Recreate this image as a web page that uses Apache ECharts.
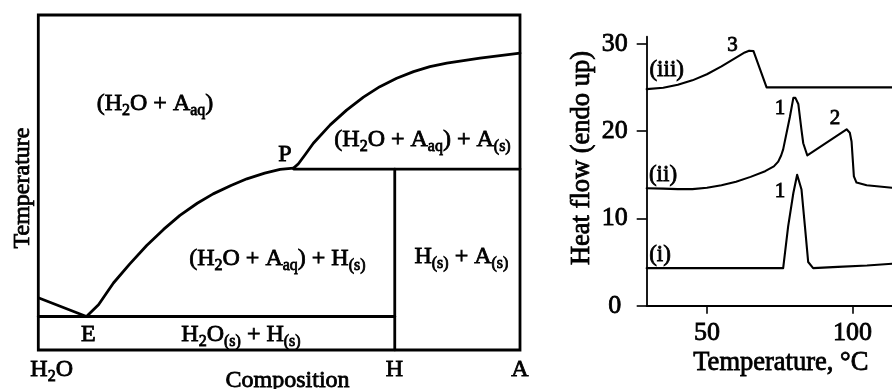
<!DOCTYPE html>
<html><head><meta charset="utf-8">
<script src="https://cdn.jsdelivr.net/npm/echarts@6/dist/echarts.min.js"></script>
<style>html,body{margin:0;padding:0;background:#fff}#c{width:892px;height:389px}</style>
</head><body><div id="c"></div>
<script>
// ---------- Phase diagram (composition 0..100: H2O=0, H=74, A=100; temperature 0..100 relative) ----------
const leftLiquidus = [[0, 15.6], [10, 10]];
const mainLiquidus = [[10, 10], [12.5, 13.5], [15.6, 20], [19, 25.7], [22.5, 31.2], [26, 36], [29.4, 40.2], [33, 43.8], [36.3, 46.6], [40, 49.1], [43.3, 51.1], [47, 52.8], [50.2, 53.9], [53, 54.3]];
const upperLiquidus = [[53, 54.3], [54, 55.6], [55.5, 58.5], [57.1, 61.7], [60.6, 67.2], [64, 71.6], [67.5, 75.5], [70.9, 78.6], [74.4, 81.1], [77.9, 83.1], [81.3, 84.6], [84.8, 85.6], [91.7, 87.1], [100, 88.6]];
const eutecticTie = [[0, 10], [74, 10]];
const peritecticTie = [[53, 54], [100, 54]];
const hydrateLine = [[74, 0], [74, 54]];
const compositionTicks = ['H₂O', 'H', 'A'];

// ---------- DSC curves (Temperature °C, heat flow) ----------
const curveIII = [[29.3, 24.8], [35, 24.95], [40, 25.3], [45, 25.8], [50, 26.5], [55, 27.4], [60, 28.4], [63, 29.0], [64.5, 29.2], [66, 29.15], [70.5, 25.0], [113.6, 25.0]];
const curveII = [[29.3, 13.45], [35, 13.4], [40, 13.35], [45, 13.35], [50, 13.5], [55, 13.8], [60, 14.2], [65, 14.75], [70, 15.4], [73, 15.95], [74.5, 16.5], [75.5, 17.2], [76.2, 17.9], [78.5, 21.6], [79.7, 23.8], [80.4, 23.8], [81.4, 23.1], [82.5, 20.1], [83.1, 18.6], [84.5, 17.2], [98, 20.2], [99.1, 19.8], [99.7, 18.8], [100.5, 14.8], [101.4, 14.1], [104.9, 13.8], [113.6, 13.5]];
const curveI = [[29.3, 4.3], [50, 4.3], [76.2, 4.3], [77.9, 9.05], [79.7, 12.9], [81, 15.0], [82.5, 13.3], [83.7, 9.0], [84.8, 5.0], [86.5, 4.3], [95, 4.45], [105, 4.6], [113.6, 4.8]];
const tempTicks = [50, 100];
const heatTicks = [0, 10, 20, 30];

const F = '"Liberation Serif", "Times New Roman", serif';
const SW = 0.8; // text stroke to mimic heavy print
const chart = echarts.init(document.getElementById('c'), null, {renderer: 'canvas'});

function rich(x, y, text, size, rot) {
  const sub = Math.round(size * 0.66);
  return {
    type: 'text', x: x, y: y, rotation: rot || 0, silent: true,
    style: {
      text: text, fill: '#000', stroke: '#000', lineWidth: SW, fontFamily: F, fontSize: size,
      align: 'center', verticalAlign: 'middle', textAlign: 'center', textVerticalAlign: 'middle',
      rich: {
        n: {fontSize: size, fontFamily: F, fill: '#000', stroke: '#000', lineWidth: SW, lineHeight: size + 5},
        s: {fontSize: sub, fontFamily: F, fill: '#000', stroke: '#000', lineWidth: SW, lineHeight: sub, verticalAlign: 'bottom'}
      }
    }
  };
}
function plain(x, y, text, size, rot) {
  return {
    type: 'text', x: x, y: y, rotation: rot || 0, silent: true,
    style: {text: text, fill: '#000', stroke: '#000', lineWidth: SW, fontFamily: F, fontSize: size,
      align: 'center', verticalAlign: 'middle', textAlign: 'center', textVerticalAlign: 'middle'}
  };
}
function ln(data, xi, w) {
  return {type: 'line', xAxisIndex: xi, yAxisIndex: xi, data: data, symbol: 'none', silent: true,
    lineStyle: {color: '#000', width: w, cap: 'round', join: 'round'}, animation: false};
}
function sub(s) { // H₂O -> rich
  return s.replace('₂', '}{s|2}{n|');
}

const option = {
  animation: false,
  backgroundColor: '#fff',
  grid: [
    {left: 38.3, right: 372, top: 15, bottom: 39, show: true, borderColor: '#000', borderWidth: 2.8, backgroundColor: 'transparent'},
    {left: 646.7, right: 0, top: 36.7, bottom: 83.3, show: false}
  ],
  xAxis: [
    {gridIndex: 0, type: 'value', min: 0, max: 100, show: false},
    {gridIndex: 1, type: 'value', min: 29.3, max: 113.6,
      axisLine: {show: true, onZero: false, lineStyle: {color: '#000', width: 1.8}},
      axisTick: {show: true, customValues: tempTicks, length: 8, lineStyle: {color: '#000', width: 1.6}},
      axisLabel: {show: true, customValues: tempTicks, margin: 14, color: '#000', fontFamily: F, fontSize: 26, lineHeight: 26, textBorderColor: '#000', textBorderWidth: SW},
      splitLine: {show: false}}
  ],
  yAxis: [
    {gridIndex: 0, type: 'value', min: 0, max: 100, show: false},
    {gridIndex: 1, type: 'value', min: 0, max: 30.8,
      axisLine: {show: true, lineStyle: {color: '#000', width: 1.8}},
      axisTick: {show: true, customValues: heatTicks, length: 10, lineStyle: {color: '#000', width: 1.6}},
      axisLabel: {show: true, customValues: heatTicks, margin: 32, align: 'center', color: '#000', fontFamily: F, fontSize: 26, textBorderColor: '#000', textBorderWidth: SW},
      splitLine: {show: false}}
  ],
  series: [
    ln(leftLiquidus, 0, 2.8), ln(mainLiquidus, 0, 2.8), ln(upperLiquidus, 0, 2.8),
    ln(eutecticTie, 0, 2.8), ln(peritecticTie, 0, 2.8), ln(hydrateLine, 0, 2.8),
    ln(curveIII, 1, 2.1), ln(curveII, 1, 2.1), ln(curveI, 1, 2.1)
  ],
  graphic: [
    rich(155, 104, '{n|(H}{s|2}{n|O + A}{s|aq}{n|)}', 24),
    rich(422.5, 140, '{n|(H}{s|2}{n|O + A}{s|aq}{n|) + A}{s|(s)}', 24),
    rich(277.4, 259, '{n|(H}{s|2}{n|O + A}{s|aq}{n|) + H}{s|(s)}', 24),
    rich(461.4, 257, '{n|H}{s|(s)}{n| + A}{s|(s)}', 24),
    plain(285, 155, 'P', 24),
    plain(88.3, 335, 'E', 24),
    rich(241, 335, '{n|H}{s|2}{n|O}{s|(s)}{n| + H}{s|(s)}', 24),
    rich(51.7, 370, '{n|' + sub(compositionTicks[0]) + '}', 24),
    plain(394.3, 370, compositionTicks[1], 24),
    plain(520, 370, compositionTicks[2], 24),
    plain(287.6, 381, 'Composition', 24),
    plain(23, 188, 'Temperature', 24, Math.PI / 2),
    plain(582.5, 158, 'Heat flow (endo up)', 26.5, Math.PI / 2),
    plain(780.8, 363, 'Temperature, °C', 26.5),
    plain(666.7, 70, '(iii)', 23),
    plain(663, 174.7, '(ii)', 23),
    plain(660, 255, '(i)', 23),
    plain(732.5, 45, '3', 21),
    plain(780, 108.3, '1', 21),
    plain(835, 118.3, '2', 21),
    plain(780, 191.7, '1', 21)
  ]
};
chart.setOption(option);
</script>
</body></html>
